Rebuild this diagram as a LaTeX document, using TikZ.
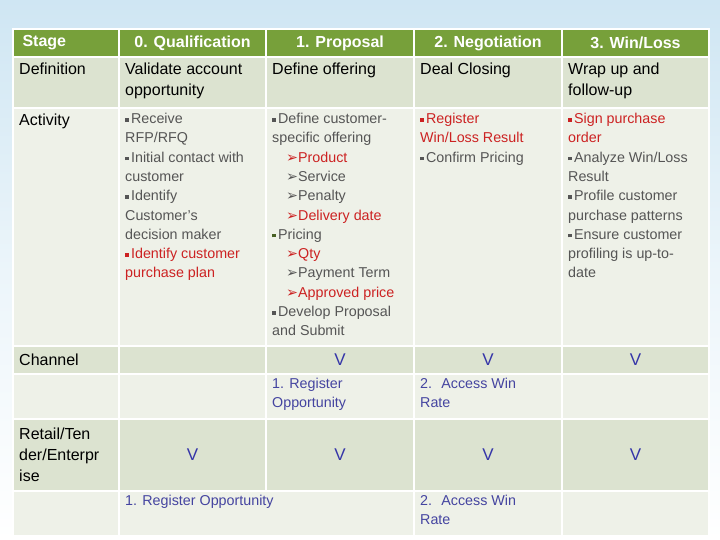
\documentclass[tikz,border=0pt]{standalone}
\usepackage{fontspec}
\setmainfont{Liberation Sans}
\newfontfamily\djv{DejaVu Sans}
\definecolor{hdr}{HTML}{77A03A}
\definecolor{dk}{HTML}{DCE3D0}
\definecolor{lt}{HTML}{EEF1E8}
\definecolor{gtx}{HTML}{555555}
\definecolor{rtx}{HTML}{CC2222}
\definecolor{btx}{HTML}{3535A8}
\definecolor{bg}{HTML}{CFE6F3}
\newcommand{\bl}{\raisebox{2pt}{\rule{3.5pt}{3.5pt}}\,}
\newcommand{\ar}{{\djv\char"27A2}}
\begin{document}
\begin{tikzpicture}[x=1pt,y=-1pt,
 cell/.style={draw=white,line width=2pt,anchor=north west,inner sep=0pt},
 txt/.style={anchor=north west,inner sep=0pt,align=left,font=\fontsize{16}{21}\selectfont},
 act/.style={anchor=north west,inner sep=0pt,align=left,text=gtx,font=\fontsize{14.3}{19.3}\selectfont},
 hd/.style={text=white,font=\fontsize{16}{18}\selectfont\bfseries},
 vv/.style={text=btx,font=\fontsize{17}{19}\selectfont},
 bt/.style={anchor=north west,inner sep=0pt,align=left,text=btx!80!gray,font=\fontsize{14.3}{19.3}\selectfont}]
\shade[top color=bg,bottom color=white,middle color=bg!40] (0,0) rectangle (720,540);
\useasboundingbox (0,0) rectangle (720,540);
\def\X{{12,118,265,413,561,708}}
\newcommand{\cellrow}[4]{%
 \foreach \i in {0,...,4}{
  \pgfmathsetmacro\xa{\X[\i]}\pgfmathsetmacro\xb{\X[\i+1]}
  \node[cell,fill=#4,minimum width=\xb-\xa,minimum height=#3-#2] (#1\i) at (\xa,#2) {};}}
\cellrow{h}{28}{56}{hdr}
\cellrow{d}{56}{107}{dk}
\cellrow{a}{107}{345}{lt}
\cellrow{c}{345}{373}{dk}
\cellrow{s}{373}{418}{lt}
\cellrow{r}{418}{490}{dk}
\node[cell,fill=lt,minimum width=106,minimum height=45] (l0) at (12,490) {};
\node[cell,fill=lt,minimum width=295,minimum height=45] (l1) at (118,490) {};
\node[cell,fill=lt,minimum width=148,minimum height=45] (l3) at (413,490) {};
\node[cell,fill=lt,minimum width=147,minimum height=45] (l4) at (561,490) {};
% header
\node[hd,anchor=west] (th0) at ([xshift=7pt]h0.west) {Stage};
\node[hd] (th1) at (h1) {0. Qualification};
\node[hd] (th2) at (h2) {1. Proposal};
\node[hd] (th3) at (h3) {2. Negotiation};
\node[hd] (th4) at (h4) {3. Win/Loss};
% definition
\node[txt] (td0) at ([shift={(7,7)}]d0.north west) {Definition};
\node[txt] (td1) at ([shift={(7,7)}]d1.north west) {Validate account\\opportunity};
\node[txt] (td2) at ([shift={(7,7)}]d2.north west) {Define offering};
\node[txt] (td3) at ([shift={(7,7)}]d3.north west) {Deal Closing};
\node[txt] (td4) at ([shift={(7,7)}]d4.north west) {Wrap up and\\follow-up};
% activity
\node[txt] (ta0) at ([shift={(7,7)}]a0.north west) {Activity};
\node[act] (ta1) at ([shift={(7,6)}]a1.north west) {\bl Receive\\RFP/RFQ\\\bl Initial contact with\\customer\\\bl Identify\\Customer's\\decision maker\\\textcolor{rtx}{\bl Identify customer}\\\textcolor{rtx}{purchase plan}};
\node[act] (ta2) at ([shift={(7,6)}]a2.north west) {\bl Define customer-\\specific offering\\\hspace*{14pt}\textcolor{rtx}{\ar Product}\\\hspace*{14pt}\ar Service\\\hspace*{14pt}\ar Penalty\\\hspace*{14pt}\textcolor{rtx}{\ar Delivery date}\\\textcolor{hdr!60!black}{\bl}Pricing\\\hspace*{14pt}\textcolor{rtx}{\ar Qty}\\\hspace*{14pt}\ar Payment Term\\\hspace*{14pt}\textcolor{rtx}{\ar Approved price}\\\bl Develop Proposal\\and Submit};
\node[act,text=rtx] (ta3) at ([shift={(7,6)}]a3.north west) {\bl Register\\Win/Loss Result\\\textcolor{gtx}{\bl Confirm Pricing}};
\node[act] (ta4) at ([shift={(7,6)}]a4.north west) {\textcolor{rtx}{\bl Sign purchase}\\\textcolor{rtx}{order}\\\bl Analyze Win/Loss\\Result\\\bl Profile customer\\purchase patterns\\\bl Ensure customer\\profiling is up-to-\\date};
% channel
\node[txt,anchor=west] (tc0) at ([xshift=7pt]c0.west) {Channel};
\node[vv] (vc2) at (c2) {V};
\node[vv] (vc3) at (c3) {V};
\node[vv] (vc4) at (c4) {V};
\node[bt] (ts2) at ([shift={(7,5)}]s2.north west) {1. Register\\Opportunity};
\node[bt] (ts3) at ([shift={(7,5)}]s3.north west) {2.~ Access Win\\Rate};
% retail
\node[txt,anchor=west] (tr0) at ([xshift=7pt]r0.west) {Retail/Ten\\der/Enterpr\\ise};
\node[vv] (vr1) at (r1) {V};
\node[vv] (vr2) at (r2) {V};
\node[vv] (vr3) at (r3) {V};
\node[vv] (vr4) at (r4) {V};
\node[bt] (tl1) at ([shift={(7,5)}]l1.north west) {1. Register Opportunity};
\node[bt] (tl3) at ([shift={(7,5)}]l3.north west) {2.~ Access Win\\Rate};
\end{tikzpicture}
\end{document}
